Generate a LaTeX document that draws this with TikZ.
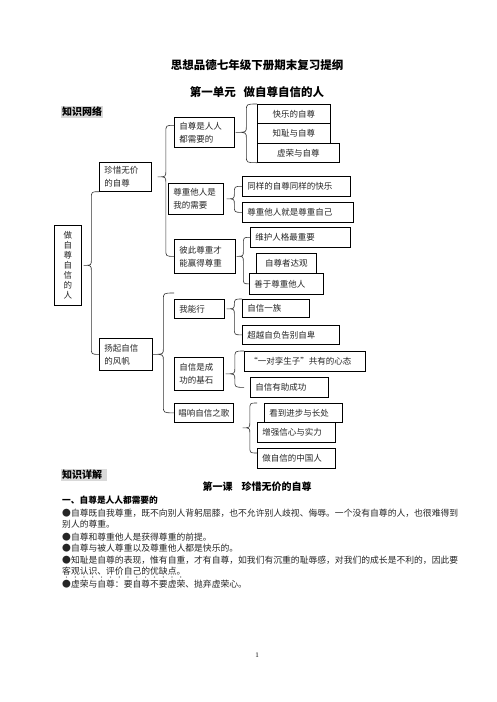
\documentclass[tikz,border=0pt]{standalone}
\usepackage{fontspec}
\setmainfont{Noto Sans CJK SC}
\newfontfamily\xiaozi{Liberation Serif}
\usetikzlibrary{calc}

\tikzset{
  kuang/.style={draw, fill=white, line width=0.7pt, anchor=north west,
    inner xsep=5pt, inner ysep=2pt, align=left, minimum height=19,
    font=\fontsize{8.5pt}{13pt}\selectfont, text=black!85},
  biaoti/.style={font=\fontsize{11.5pt}{14pt}\selectfont\bfseries},
  xiaobiaoti/.style={fill=black!15, inner sep=1pt, anchor=west,
    font=\fontsize{10pt}{12pt}\selectfont\bfseries},
  zhengwen/.style={anchor=west, inner sep=0pt, text=black!85,
    font=\fontsize{8.8pt}{11pt}\selectfont},
  kuohaoxian/.style={line width=0.6pt, black!80},
}

% curly brace: top end, tip, bottom end
\newcommand{\kuohao}[3]{%
  \draw[kuohaoxian] let \p1=#1, \p2=#2, \p3=#3,
      \p4=($(\p1)!0.5!(\p2)$) in
    (\x1,\y1) .. controls (\x4,\y1) .. (\x4,{\y1-7pt})
    -- (\x4,{\y2+6pt}) .. controls (\x4,\y2) .. (\x2,\y2)
    .. controls (\x4,\y2) .. (\x4,{\y2-6pt})
    -- (\x4,{\y3+7pt}) .. controls (\x4,\y3) .. (\x3,\y3);}

\begin{document}
\begin{tikzpicture}[x=1pt,y=-1pt]
    \fill[white] (0,0) rectangle (496,702);
    \useasboundingbox (0,0) rectangle (496,702);

    % headings
    \node[biaoti] (biaoti) at (257,65) {思想品德七年级下册期末复习提纲};
    \node[biaoti] (danyuan) at (257,92) {第一单元\hspace{8pt}做自尊自信的人};
    \node[xiaobiaoti] (wangluo) at (61,112) {知识网络};

    % knowledge network
    \node[kuang, text width=17, align=center, minimum height=80,
        font=\fontsize{8.5pt}{10pt}\selectfont] (zr) at (54,225)
        {做\\自\\尊\\自\\信\\的\\人};

    \node[kuang, text width=42, minimum height=29] (zx) at (99,162) {珍惜无价\\的自尊};
    \node[kuang, text width=43, minimum height=32] (yq) at (99,338) {扬起自信\\的风帆};

    \node[kuang, text width=50, minimum height=30] (zz) at (174,117) {自尊是人人\\都需要的};
    \node[kuang, text width=45, minimum height=31] (zt) at (168,183) {尊重他人是\\我的需要};
    \node[kuang, text width=51, minimum height=34] (bc) at (174,239) {彼此尊重才\\能赢得尊重};
    \node[kuang, text width=40] (wn) at (174,299) {我能行};
    \node[kuang, text width=39, minimum height=33] (zc) at (174,357) {自信是成\\功的基石};
    \node[kuang, text width=51, inner xsep=4pt] (cx) at (174,403) {唱响自信之歌};

    \node[kuang, minimum width=73, align=center] (k1) at (257,104) {快乐的自尊};
    \node[kuang, minimum width=73, minimum height=20, align=center] (k2) at (257,123) {知耻与自尊};
    \node[kuang, minimum width=82, align=center] (k3) at (257,143) {虚荣与自尊};

    \node[kuang, text width=98, minimum height=20] (t1) at (242,176) {同样的自尊同样的快乐};
    \node[kuang, text width=101, minimum height=20] (t2) at (242,202) {尊重他人就是尊重自己};

    \node[kuang, text width=90, minimum height=20] (w1) at (250,227) {维护人格最重要};
    \node[kuang, minimum width=60, minimum height=20, align=center] (w2) at (256,253) {自尊者达观};
    \node[kuang, text width=64, minimum height=21] (w3) at (249,273) {善于尊重他人};

    \node[kuang, text width=57, minimum height=18] (x1) at (242,299) {自信一族};
    \node[kuang, text width=87] (x2) at (242,325) {超越自负告别自卑};

    \node[kuang, text width=111, minimum height=20] (y1) at (244,351) {“一对孪生子”共有的心态};
    \node[kuang, text width=68, minimum height=20] (y2) at (250,377) {自信有助成功};

    \node[kuang, text width=68] (c1) at (264,403) {看到进步与长处};
    \node[kuang, text width=68, minimum height=20] (c2) at (257,422) {增强信心与实力};
    \node[kuang, text width=68, minimum height=20] (c3) at (257,448) {做自信的中国人};

    % braces
    \kuohao{(zx.south west)}{([xshift=2pt]zr.east)}{(yq.west)}
    \kuohao{([yshift=7pt]zz.west)}{([xshift=6pt]zx.east)}{(bc.west)}
    \kuohao{(k1.north west)}{([xshift=1pt]zz.east)}{(k3.south west)}
    \kuohao{(t1.west)}{([xshift=3pt]zt.east)}{(t2.west)}
    \kuohao{(w1.west)}{([xshift=1pt]bc.east)}{(w3.west)}
    \kuohao{([yshift=6pt]wn.north west)}{(yq.east)}{(cx.west)}
    \kuohao{(x1.north west)}{([xshift=2pt]wn.east)}{(x2.west)}
    \kuohao{(y1.north west)}{([xshift=2pt]zc.east)}{([xshift=-6pt]y2.west)}
    \kuohao{([xshift=-7pt]c1.north west)}{([xshift=9pt,yshift=-15pt]cx.east)}{([yshift=-5pt]c3.north west)}

    % details
    \node[xiaobiaoti, text width=44, align=left] (xiangjie) at (61,475) {知识详解};
    \node[font=\fontsize{10pt}{12pt}\selectfont\bfseries] (diyike) at (257,487)
        {第一课\hspace{9pt}珍惜无价的自尊};
    \node[zhengwen, text=black, font=\fontsize{8.7pt}{11pt}\selectfont\bfseries] (yi) at (62,500)
        {一、自尊是人人都需要的};
    \node[zhengwen] (h1) at (62,513) {●自尊既自我尊重，既不向别人背躬屈膝，也不允许别人歧视、侮辱。一个没有自尊的人，也很难得到};
    \node[zhengwen] (h2) at (62,524) {别人的尊重。};
    \node[zhengwen] (h3) at (62,537) {●自尊和尊重他人是获得尊重的前提。};
    \node[zhengwen] (h4) at (62,548) {●自尊与被人尊重以及尊重他人都是快乐的。};
    \node[zhengwen] (h5) at (62,560) {●知耻是自尊的表现，惟有自重，才有自尊，如我们有沉重的耻辱感，对我们的成长是不利的，因此要};
    \node[zhengwen] (h6) at (62,571) {客观认识、评价自己的优缺点。};
    \foreach \i in {0,...,13}
        \fill[black!80] ({66.4+\i*8.8},577) circle (0.6);
    \node[zhengwen] (h7) at (62,584) {●虚荣与自尊：要自尊不要虚荣、抛弃虚荣心。};

    \node[font=\xiaozi\fontsize{7pt}{8pt}\selectfont] (yema) at (257,655) {1};
\end{tikzpicture}
\end{document}
